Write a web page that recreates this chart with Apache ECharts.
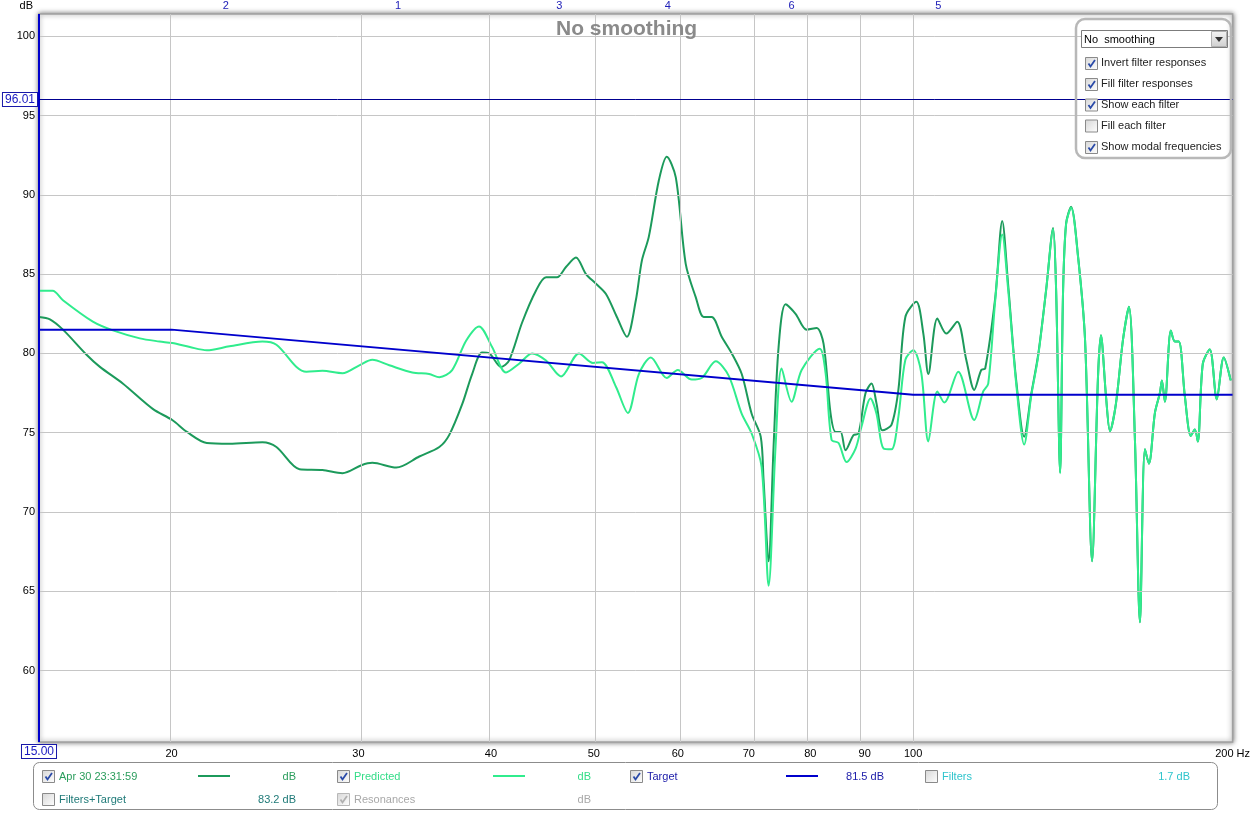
<!DOCTYPE html>
<html><head><meta charset="utf-8">
<script src="https://cdn.jsdelivr.net/npm/echarts@6/dist/echarts.min.js"></script>
<style>html,body{margin:0;padding:0;background:#fff}#c{width:1253px;height:813px}</style>
</head><body><div id="c"></div>
<script>
// ---------- data ----------
const measFreq = [15.0,15.36,15.8,16.64,17.12,17.99,19.2,20.03,20.68,21.59,22.68,24.36,25.11,26.4,27.75,28.98,30.2,30.92,32.57,34.24,35.76,36.53,37.58,38.4,39.24,39.84,40.89,41.6,42.8,44.1,45.08,46.16,47.07,48.1,49.16,50.23,51.34,52.57,53.72,54.78,55.5,56.34,57.58,58.58,59.74,61.04,62.38,63.47,64.58,66.0,67.45,68.93,70.43,71.83,72.28,73.07,73.86,74.67,75.81,77.47,79.36,81.1,82.33,83.59,84.5,85.42,86.35,87.86,88.82,90.18,91.36,92.35,93.56,95.4,96.84,98.32,100.69,102.23,103.34,105.38,107.45,110.04,112.21,114.17,115.92,116.92,119.49,121.32,122.9,125.05,127.24,129.18,131.15,133.45,135.48,136.37,137.56,138.45,139.36,140.87,143.03,145.21,147.44,149.35,150.3,151.96,153.28,155.29,157.66,159.72,161.81,163.57,165.35,166.79,168.98,170.81,171.56,172.67,174.93,176.46,178.0,180.32,182.68,184.27,185.47,187.49,190.35,193.26,196.21,199.2];
const measDb = [82.3,82.15,81.5,79.9,79.15,78.1,76.5,75.8,75.05,74.35,74.3,74.4,74.1,72.7,72.65,72.45,72.95,73.1,72.8,73.5,74.1,74.85,76.8,78.7,80.05,80.0,79.15,79.55,81.95,83.95,84.8,84.8,85.45,86.05,85.0,84.4,83.75,82.3,81.05,83.35,85.85,87.35,90.9,92.4,91.1,85.65,83.55,82.3,82.3,81.05,80.0,78.7,76.2,74.75,72.0,66.9,74.1,80.4,83.1,82.5,81.5,81.6,80.6,76.2,75.05,75.05,73.9,74.85,74.95,77.5,78.1,76.85,75.15,75.5,77.7,82.3,83.25,81.25,78.7,82.2,81.25,82.0,79.6,77.7,78.95,79.05,83.5,88.35,84.3,78.3,74.75,77.4,79.9,84.0,87.9,84.0,72.5,84.0,88.2,89.25,86.1,80.85,66.9,78.55,81.15,77.3,75.1,76.85,80.85,82.95,74.55,63.05,73.95,73.05,76.25,77.5,78.3,76.95,81.45,80.75,80.75,77.3,74.8,75.2,74.45,79.35,80.25,77.1,79.75,78.3];

const predFreq = [15.0,15.45,15.8,16.86,17.61,18.67,19.49,20.03,20.81,21.59,22.68,24.36,25.11,26.23,26.8,27.75,28.98,30.06,30.92,32.08,33.72,34.98,35.76,36.77,37.9,38.98,40.1,41.33,42.52,43.73,45.08,46.57,48.42,49.9,50.89,52.46,53.84,55.14,56.59,58.58,60.0,61.85,63.2,65.15,67.0,68.92,70.43,71.97,73.07,74.18,75.16,76.8,78.5,81.63,82.69,83.77,85.05,86.54,88.25,89.4,91.16,92.35,93.77,95.4,96.84,98.32,100.04,101.79,103.34,105.38,106.99,110.28,114.17,116.42,117.69,119.49,121.32,122.9,125.05,127.24,129.18,131.15,133.45,135.48,136.37,137.56,138.45,139.36,140.87,143.03,145.21,147.44,149.35,150.3,151.96,153.28,155.29,157.66,159.72,161.81,163.57,165.35,166.79,168.98,170.81,171.56,172.67,174.93,176.46,178.0,180.32,182.68,184.27,185.47,187.49,190.35,193.26,196.21,199.2];
const predDb = [83.95,83.95,83.35,82.0,81.45,80.95,80.75,80.65,80.4,80.2,80.45,80.75,80.55,79.15,78.85,78.9,78.75,79.25,79.6,79.25,78.8,78.7,78.5,78.95,80.8,81.7,80.4,78.8,79.35,80.0,79.55,78.55,80.0,79.4,79.45,77.9,76.25,78.7,79.75,78.45,78.95,78.35,78.45,79.5,78.6,76.2,74.95,72.85,65.35,74.1,79.05,76.95,78.95,80.3,78.75,74.55,74.35,73.15,74.0,75.4,77.15,76.2,74.0,73.95,76.0,79.6,80.2,78.75,74.45,77.6,76.9,78.85,75.8,77.6,78.1,83.35,87.5,84.0,78.1,74.25,77.3,79.8,84.0,87.85,84.0,72.45,84.0,88.15,89.2,86.05,80.85,66.9,78.55,81.15,77.3,75.1,76.85,80.85,82.95,74.55,63.05,73.95,73.05,76.25,77.5,78.3,76.95,81.45,80.75,80.75,77.3,74.8,75.2,74.45,79.35,80.25,77.1,79.75,78.3];

const targetFreq = [15, 20, 100, 200];
const targetDb = [81.5, 81.5, 77.4, 77.4];

const xTicks = [20, 30, 40, 50, 60, 70, 80, 90, 100, 200];
const yTicks = [60, 65, 70, 75, 80, 85, 90, 95, 100];
const modalFreq = [22.5, 32.7, 46.4, 58.7, 76.8, 105.6];
const modalNames = ['2', '1', '3', '4', '6', '5'];
const cursorFreq = 15.00;
const cursorDb = 96.01;
const xRange = [15, 200];
const yRange = [55.5, 101.4];

const smoothingText = 'No  smoothing';
const panelOptions = ['Invert filter responses', 'Fill filter responses', 'Show each filter', 'Fill each filter', 'Show modal frequencies'];
const panelChecked = [true, true, true, false, true];

const legendLabels = ['Apr 30 23:31:59', 'Predicted', 'Target', 'Filters', 'Filters+Target', 'Resonances'];
const legendValues = ['dB', 'dB', '81.5 dB', '1.7 dB', '83.2 dB', 'dB'];
const legendChecked = [true, true, true, false, false, true];
const legendDisabled = [false, false, false, false, false, true];

// ---------- styles ----------
const C_MEAS = '#1c9a5b';
const C_PRED = '#30ec8d';
const C_TARGET = '#0000cc';
const legendTextColors = ['#2a9d5c', '#33dd88', '#1a1aa8', '#2ec4cc', '#1f7a78', '#a8a8a8'];
const legendLineColors = [C_MEAS, C_PRED, C_TARGET, null, null, null];
const FONT = '"Liberation Sans", Arial, sans-serif';

const L = Math.log10;
const pairs = (f, d) => f.map((v, i) => [L(v), d[i]]);

// ---------- graphics (panel + legend) ----------
const g = [];
function checkbox(x, y, checked, disabled) {
  g.push({ type: 'rect', z: 100, shape: { x: x + 0.5, y: y + 0.5, width: 12, height: 12 },
    style: { fill: new echarts.graphic.LinearGradient(0, 0, 1, 1, [{ offset: 0, color: '#d6d6d6' }, { offset: 1, color: '#ffffff' }]),
      stroke: disabled ? '#b8b8b8' : '#8a8a8a', lineWidth: 1 } });
  if (checked) {
    g.push({ type: 'polyline', z: 101, shape: { points: [[x + 3.5, y + 6.5], [x + 5.5, y + 9.5], [x + 10, y + 3]] },
      style: { stroke: disabled ? '#b0b0b0' : '#2a4aa8', lineWidth: 1.8, fill: null } });
  }
}
function text(x, y, s, color, align, size, weight) {
  g.push({ type: 'text', z: 101, x: x, y: y,
    style: { text: s, fill: color, align: align || 'left', verticalAlign: 'middle', font: (weight || 'normal') + ' ' + (size || 11) + 'px ' + FONT } });
}

// right panel
g.push({ type: 'rect', z: 99, shape: { x: 1076, y: 19, width: 155, height: 139, r: 9 },
  style: { fill: null, stroke: '#b8b8b8', lineWidth: 2.5 } });
g.push({ type: 'rect', z: 100, shape: { x: 1081.5, y: 30.5, width: 146, height: 17 },
  style: { fill: '#fff', stroke: '#7c7c7c', lineWidth: 1 } });
text(1084, 39.5, smoothingText, '#000', 'left', 11);
g.push({ type: 'rect', z: 101, shape: { x: 1211.5, y: 31.5, width: 15, height: 15 },
  style: { fill: new echarts.graphic.LinearGradient(0, 0, 0, 1, [{ offset: 0, color: '#f4f4f4' }, { offset: 1, color: '#cfcfcf' }]), stroke: '#b0b0b0', lineWidth: 1 } });
g.push({ type: 'polygon', z: 102, shape: { points: [[1215, 37], [1223, 37], [1219, 42]] }, style: { fill: '#333' } });
const panelRowY = [63, 84, 104.5, 125.5, 147];
panelOptions.forEach((s, i) => {
  checkbox(1085, panelRowY[i] - 6, panelChecked[i], false);
  text(1101, panelRowY[i], s, '#222', 'left', 11);
});

// bottom legend
g.push({ type: 'rect', z: 99, shape: { x: 33.5, y: 762.5, width: 1184, height: 47, r: 6 },
  style: { fill: '#fff', stroke: '#8c8c8c', lineWidth: 1 } });
const colX = [42, 337, 630, 925];
const rowY = [776, 799];
const valueRight = [296, 591, 884, 1190];
legendLabels.forEach((s, i) => {
  const col = i < 4 ? i : i - 4;
  const row = i < 4 ? 0 : 1;
  const x = colX[col], y = rowY[row];
  checkbox(x, y - 6, legendChecked[i], legendDisabled[i]);
  text(x + 17, y + 0.5, s, legendTextColors[i], 'left', 11);
  if (legendLineColors[i]) {
    g.push({ type: 'line', z: 101, shape: { x1: x + 156, y1: y, x2: x + 188, y2: y }, style: { stroke: legendLineColors[i], lineWidth: 2 } });
  }
  text(valueRight[col], y + 0.5, legendValues[i], legendTextColors[i], 'right', 11);
});

// ---------- chart ----------
const chart = echarts.init(document.getElementById('c'));
const boxLabel = {
  show: true, position: 'start', color: '#1818c0', fontSize: 12, fontFamily: FONT,
  borderColor: '#1818a8', borderWidth: 1, backgroundColor: '#fff', padding: [1, 2, 0, 2], distance: 2
};
chart.setOption({
  animation: false,
  backgroundColor: '#fff',
  title: { text: 'No smoothing', left: 551, top: 14,
    textStyle: { color: '#8a8a8a', fontSize: 21, fontWeight: 'bold', fontFamily: FONT } },
  grid: { left: 39, right: 19, top: 14, bottom: 71, show: true, backgroundColor: '#fff',
    borderColor: '#a0a0a0', borderWidth: 1.5, shadowColor: 'rgba(0,0,0,0.5)', shadowBlur: 5, shadowOffsetX: 0, shadowOffsetY: 0 },
  xAxis: [
    { type: 'value', min: L(xRange[0]), max: L(xRange[1]),
      axisLine: { show: false }, axisTick: { show: false }, splitLine: { show: false },
      axisLabel: { customValues: xTicks.map(L), margin: 6, color: '#000', fontSize: 11, fontFamily: FONT,
        formatter: v => { const f = Math.round(Math.pow(10, v)); return f === 200 ? '200 Hz' : String(f); } } },
    { type: 'value', position: 'top', min: L(xRange[0]), max: L(xRange[1]),
      axisLine: { show: false }, axisTick: { show: false }, splitLine: { show: false },
      axisLabel: { customValues: modalFreq.map(L), margin: 3, color: '#2020b8', fontSize: 11, fontFamily: FONT,
        formatter: v => { let best = 0; modalFreq.forEach((f, i) => { if (Math.abs(L(f) - v) < Math.abs(L(modalFreq[best]) - v)) best = i; }); return modalNames[best]; } } }
  ],
  yAxis: { type: 'value', min: yRange[0], max: yRange[1],
    name: 'dB', nameLocation: 'end', nameGap: 3,
    nameTextStyle: { color: '#000', fontSize: 11, fontFamily: FONT, align: 'right', padding: [0, 6, 0, 0] },
    axisLine: { show: false }, axisTick: { show: false }, splitLine: { show: false },
    axisLabel: { customValues: yTicks, margin: 4, color: '#000', fontSize: 11, fontFamily: FONT } },
  graphic: g,
  series: [
    { name: 'grid', type: 'line', data: [], z: 1, silent: true,
      markLine: { silent: true, symbol: 'none', animation: false, label: { show: false },
        lineStyle: { color: '#c6c6c6', width: 1, type: 'solid' },
        data: xTicks.filter(t => t < xRange[1]).map(t => ({ xAxis: L(t) })).concat(yTicks.map(t => ({ yAxis: t }))) } },
    { name: 'Apr 30 23:31:59', type: 'line', data: pairs(measFreq, measDb), z: 3, symbol: 'none', smooth: 0.3,
      lineStyle: { color: C_MEAS, width: 2 }, itemStyle: { color: C_MEAS } },
    { name: 'Predicted', type: 'line', data: pairs(predFreq, predDb), z: 4, symbol: 'none', smooth: 0.3,
      lineStyle: { color: C_PRED, width: 2 }, itemStyle: { color: C_PRED } },
    { name: 'Target', type: 'line', data: pairs(targetFreq, targetDb), z: 5, symbol: 'none',
      lineStyle: { color: C_TARGET, width: 2 }, itemStyle: { color: C_TARGET },
      markLine: { silent: true, symbol: 'none', animation: false, precision: 4,
        data: [
          [{ coord: [L(cursorFreq), yRange[0]], lineStyle: { color: '#0000cc', width: 2, type: 'solid' },
             label: Object.assign({}, boxLabel, { formatter: cursorFreq.toFixed(2), distance: 3 }) },
           { coord: [L(cursorFreq), yRange[1]] }],
          { yAxis: cursorDb, lineStyle: { color: '#000090', width: 1, type: 'solid' },
            label: Object.assign({}, boxLabel, { formatter: cursorDb.toFixed(2) }) }
        ] } }
  ]
});
</script></body></html>
